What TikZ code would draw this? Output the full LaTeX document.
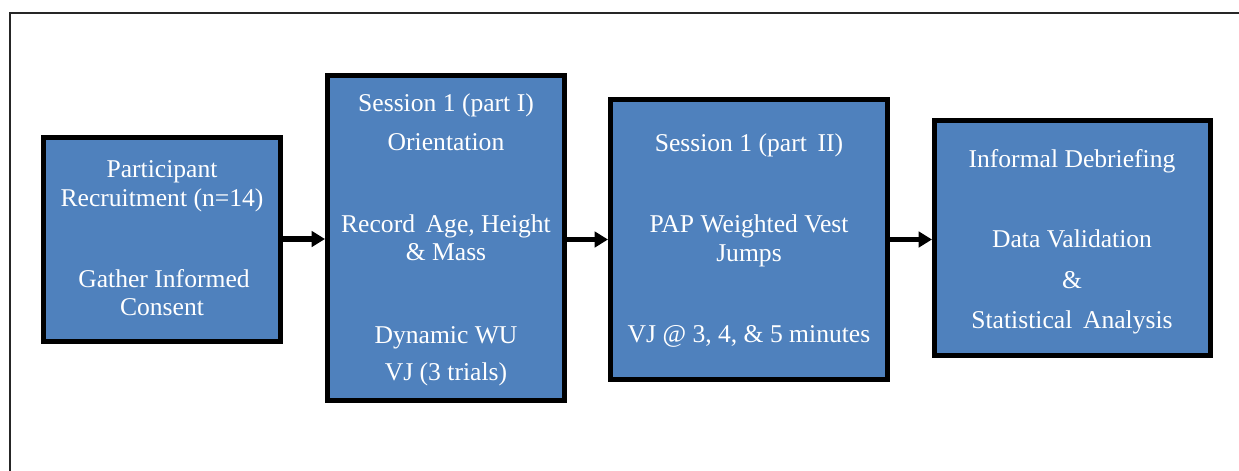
\documentclass[tikz,border=0pt]{standalone}
\usepackage{fontspec}
\setmainfont{Liberation Serif}
\usetikzlibrary{arrows.meta}
\definecolor{stepblue}{RGB}{79,129,189}
\tikzset{
  stagebox/.style={draw=black, line width=3.75pt, fill=stepblue, inner sep=0pt},
  caption/.style={anchor=base, text=white, inner sep=0pt,
    font=\fontsize{19.2}{22}\selectfont},
  flow/.style={line width=4pt, -{Triangle[length=10pt,width=11.5pt]}},
}
\begin{document}
\begin{tikzpicture}[x=0.75pt, y=-0.75pt]
  \useasboundingbox (0,0) rectangle (1239,471);
  % outer frame, running past the right and bottom edges
  \begin{scope}
    \clip (0,0) rectangle (1239,471);
    \draw[line width=1.6pt, black!85] (9.7,12.7) rectangle (1260,500);
  \end{scope}

  % stage boxes
  \node[stagebox, minimum width=0.75pt*237, minimum height=0.75pt*204] (b1) at (162,239) {};
  \node[stagebox, minimum width=0.75pt*237, minimum height=0.75pt*325] (b2) at (446,238) {};
  \node[stagebox, minimum width=0.75pt*277, minimum height=0.75pt*280] (b3) at (749,239.5) {};
  \node[stagebox, minimum width=0.75pt*276, minimum height=0.75pt*235] (b4) at (1072.5,238) {};

  % connectors, kept horizontal
  \draw[flow] (b1.east) -- (b1.east -| b2.west);
  \draw[flow] (b2.east |- b3.west) -- (b3.west);
  \draw[flow] (b3.east) -- (b3.east -| b4.west);

  % box 1
  \node[caption] (t1a) at (162,177) {Participant};
  \node[caption] (t1b) at (162,206) {Recruitment (n=14)};
  \node[caption] (t1c) at (164,287) {Gather Informed};
  \node[caption] (t1d) at (162,315) {Consent};

  % box 2
  \node[caption] (t2a) at (446,111) {Session 1 (part I)};
  \node[caption] (t2b) at (446,150) {Orientation};
  \node[caption] (t2c) at (446,232) {Record\, Age, Height};
  \node[caption] (t2d) at (446,260) {\& Mass};
  \node[caption] (t2e) at (446,343) {Dynamic WU};
  \node[caption] (t2f) at (446,380) {VJ (3 trials)};

  % box 3
  \node[caption] (t3a) at (749,151) {Session 1 (part\, II)};
  \node[caption] (t3b) at (749,232) {PAP Weighted Vest};
  \node[caption] (t3c) at (749,261) {Jumps};
  \node[caption] (t3d) at (749,342) {VJ @ 3, 4, \& 5 minutes};

  % box 4
  \node[caption] (t4a) at (1072,167) {Informal Debriefing};
  \node[caption] (t4b) at (1072,247) {Data Validation};
  \node[caption] (t4c) at (1072,288) {\&};
  \node[caption] (t4d) at (1072,328) {Statistical\, Analysis};
\end{tikzpicture}
\end{document}
